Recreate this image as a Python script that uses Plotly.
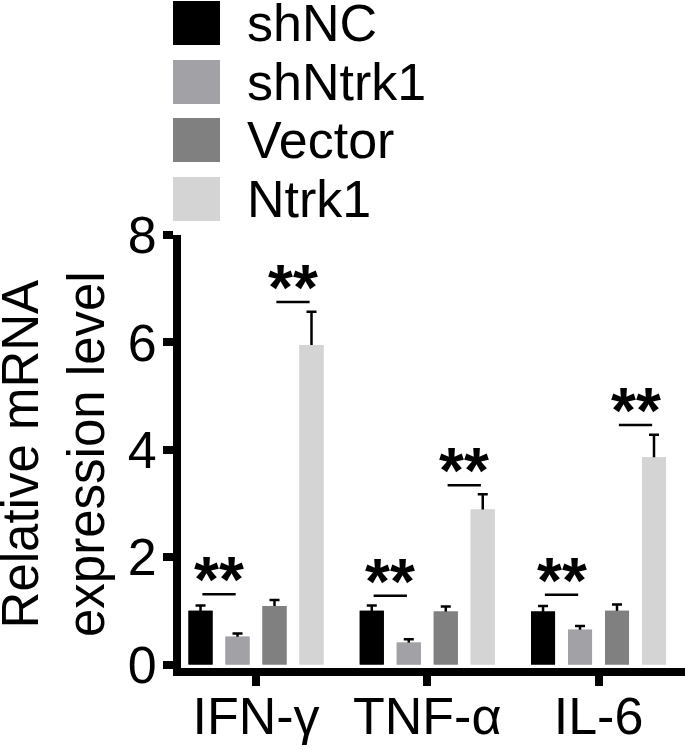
import plotly.graph_objects as go

# ---------------- data ----------------
categories = ["IFN-γ", "TNF-α", "IL-6"]
series_names = ["shNC", "shNtrk1", "Vector", "Ntrk1"]
shNC = [1.00, 1.00, 0.99]
shNC_err = [0.10, 0.10, 0.10]
shNtrk1 = [0.52, 0.41, 0.65]
shNtrk1_err = [0.06, 0.06, 0.07]
vector = [1.09, 0.99, 1.00]
vector_err = [0.11, 0.09, 0.12]
ntrk1 = [5.95, 2.89, 3.86]
ntrk1_err = [0.62, 0.28, 0.42]
# significance brackets: (first bar, second bar) and heights per category
sig_pairs = [(0, 1), (2, 3)]
sig_low = [1.31, 1.28, 1.30]      # shNC vs shNtrk1
sig_high = [6.75, 3.34, 4.46]     # Vector vs Ntrk1
sig_text = "**"
y_ticks = [0, 2, 4, 6, 8]
y_title = "Relative mRNA<br>expression level"

values = [shNC, shNtrk1, vector, ntrk1]
errors = [shNC_err, shNtrk1_err, vector_err, ntrk1_err]
colors = ["#000000", "#a2a2a6", "#808080", "#d4d4d4"]

# ---------------- layout constants ----------------
W, H = 685, 750
L, R, T, B = 181, 0, 235, 82
PW, PH = W - L - R, H - T - B
FONT = "Arial, Liberation Sans, sans-serif"
BARGAP = 0.136
GROUPGAP = 0.35
slot = (1 - BARGAP) / 4

fig = go.Figure()
# bars with error bars (lower half hidden by overlay copies)
for k in range(4):
    fig.add_trace(go.Bar(
        x=categories, y=values[k], name=series_names[k],
        marker=dict(color=colors[k], line=dict(width=0)),
        offsetgroup=str(k), showlegend=False,
        error_y=dict(type="data", array=errors[k], visible=True,
                     color="black", thickness=2.5, width=5),
    ))
for k in range(4):
    fig.add_trace(go.Bar(
        x=categories, y=values[k], name=series_names[k],
        marker=dict(color=colors[k], line=dict(width=0)),
        offsetgroup=str(k), showlegend=False, hoverinfo="skip",
    ))

shapes = []
annotations = []
# significance marks
for i in range(len(categories)):
    for (k1, k2), h in zip(sig_pairs, [sig_low[i], sig_high[i]]):
        mid = i + ((k1 + k2) / 2 - 1.5) * slot
        half = 0.45 * slot
        shapes.append(dict(type="line", xref="x", yref="y",
                           x0=mid - half, x1=mid + half, y0=h, y1=h,
                           line=dict(color="black", width=2.5)))
        annotations.append(dict(x=mid, y=h, xref="x", yref="y", text=sig_text,
                                showarrow=False, xanchor="center", yanchor="middle",
                                yshift=14, font=dict(family=FONT, size=64, color="black", weight="bold")))

# custom legend (large square swatches)
def px_x(px):
    return (px - L) / PW

def px_y(py):
    return (H - B - py) / PH

leg_top = [1, 60, 118, 177]
sq = 44
for k in range(4):
    shapes.append(dict(type="rect", xref="paper", yref="paper",
                       x0=px_x(173), x1=px_x(220), y0=px_y(leg_top[k] + sq), y1=px_y(leg_top[k]),
                       fillcolor=colors[k], line=dict(width=0)))
    annotations.append(dict(x=px_x(245), y=px_y(leg_top[k] + sq / 2), xref="paper", yref="paper",
                            text=series_names[k], showarrow=False, xanchor="left", yanchor="middle",
                            font=dict(family=FONT, size=52, color="black")))

# y-axis title as rotated annotation
annotations.append(dict(x=px_x(53), y=px_y(454), xref="paper", yref="paper",
                        text=y_title, textangle=-90, showarrow=False,
                        xanchor="center", yanchor="middle",
                        font=dict(family=FONT, size=51, color="black")))

y0 = -3.5 / ((671.5 - 235) / 8)
fig.update_layout(
    width=W, height=H,
    margin=dict(l=L, r=R, t=T, b=B, autoexpand=False),
    paper_bgcolor="white", plot_bgcolor="white",
    barmode="group", bargap=BARGAP, bargroupgap=GROUPGAP,
    font=dict(family=FONT, color="black"),
    shapes=shapes, annotations=annotations,
    xaxis=dict(range=[-0.438, 2.505], showline=True, linecolor="black", linewidth=8,
               ticks="outside", ticklen=10, tickwidth=8, tickcolor="black",
               tickfont=dict(family=FONT, size=52, color="black"), ticklabelstandoff=-14,
               showgrid=False, zeroline=False, automargin=False),
    yaxis=dict(range=[y0, 8], tickvals=y_ticks, showline=True, linecolor="black", linewidth=8,
               ticks="outside", ticklen=10, tickwidth=8, tickcolor="black",
               tickfont=dict(family=FONT, size=52, color="black"), ticklabelstandoff=-4,
               showgrid=False, zeroline=False, automargin=False),
)

fig.write_html("out.html", config={"displayModeBar": False},
               post_script="document.body.style.margin='0';document.body.style.overflow='hidden';")
